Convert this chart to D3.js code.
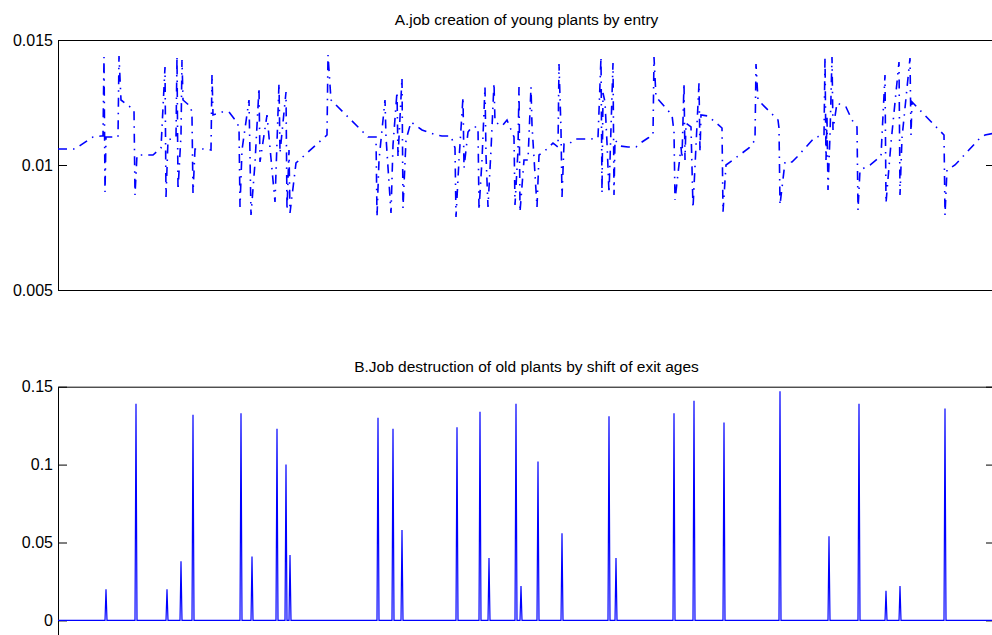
<!DOCTYPE html>
<html>
<head>
<meta charset="utf-8">
<script src="https://cdn.jsdelivr.net/npm/d3@7/dist/d3.min.js"></script>
<style>
  body { margin: 0; background: #fff; }
  svg { display: block; font-family: "Liberation Sans", Arial, sans-serif; }
</style>
</head>
<body>
<div id="chart"></div>
<script>
// number of periods on the (unlabelled) time axis
var nPeriods = 937

// A. job creation of young plants by entry -- period / rate pairs
var periodsA = [0, 17, 35, 43, 45, 46, 47, 48, 60, 61, 63, 76, 77, 79, 87, 95, 103, 107, 108, 110,
  118, 119, 120, 123, 124, 125, 133, 134, 135, 137, 145, 153, 154, 155, 164, 171, 178, 181, 182, 184,
  191, 192, 193, 197, 201, 202, 209, 217, 221, 222, 228, 229, 231, 232, 238, 269, 270, 273, 305, 310,
  318, 319, 321, 327, 328, 333, 335, 339, 340, 344, 345, 348, 353, 364, 378, 384, 393, 397, 398, 401,
  405, 406, 410, 414, 420, 421, 424, 427, 428, 430, 433, 436, 437, 444, 449, 456, 457, 460, 461, 462,
  466, 470, 473, 474, 479, 481, 489, 495, 500, 501, 503, 504, 506, 511, 517, 533, 540, 543, 544, 545,
  547, 549, 551, 555, 556, 557, 562, 570, 578, 584, 590, 595, 596, 598, 614, 616, 617, 623, 624, 626,
  627, 628, 633, 635, 641, 642, 643, 650, 657, 664, 665, 668, 691, 697, 698, 700, 720, 721, 722, 727,
  734, 739, 757, 766, 767, 768, 769, 770, 772, 774, 775, 779, 788, 794, 799, 800, 802, 812, 823, 827,
  828, 833, 841, 842, 844, 852, 853, 854, 886, 887, 889, 897, 922, 927, 937]
var creationA = [0.01064, 0.01064, 0.01112, 0.01116, 0.01116, 0.01432, 0.00892, 0.01112, 0.01112, 0.01436,
  0.0126, 0.0122, 0.0088, 0.0104, 0.0104, 0.0104, 0.01068, 0.01392, 0.00872, 0.011,
  0.01112, 0.01436, 0.009, 0.0112, 0.0142, 0.0126, 0.01232, 0.01192, 0.00888, 0.01064,
  0.01064, 0.0106, 0.01364, 0.012, 0.01212, 0.01212, 0.01176, 0.01152, 0.00832, 0.0106,
  0.0126, 0.0104, 0.008, 0.01008, 0.01308, 0.01012, 0.012, 0.00852, 0.01328, 0.01048,
  0.01292, 0.0082, 0.0106, 0.00808, 0.01008, 0.0112, 0.0144, 0.0126, 0.01132, 0.01112,
  0.01112, 0.00792, 0.0102, 0.0126, 0.01112, 0.00808, 0.0108, 0.01292, 0.01032, 0.01348,
  0.00828, 0.011, 0.01172, 0.0114, 0.0112, 0.01116, 0.01116, 0.01068, 0.00792, 0.0102,
  0.01272, 0.00988, 0.01132, 0.01152, 0.01152, 0.0082, 0.0102, 0.01312, 0.0104, 0.00832,
  0.0106, 0.01328, 0.01172, 0.01156, 0.0118, 0.01112, 0.0084, 0.0106, 0.01312, 0.00812,
  0.0102, 0.0102, 0.01312, 0.0116, 0.00832, 0.0104, 0.01064, 0.01088, 0.01072, 0.01404,
  0.0114, 0.00872, 0.01084, 0.01084, 0.01104, 0.01104, 0.01108, 0.01432, 0.00888, 0.01288,
  0.01252, 0.01088, 0.00888, 0.01408, 0.0088, 0.011, 0.01076, 0.01072, 0.01072, 0.01092,
  0.01108, 0.0112, 0.01432, 0.01272, 0.012, 0.01132, 0.0086, 0.01072, 0.01028, 0.01328,
  0.0102, 0.01168, 0.01152, 0.00828, 0.01328, 0.01052, 0.012, 0.01196, 0.01172, 0.01148,
  0.00812, 0.01, 0.01068, 0.011, 0.01404, 0.0126, 0.0118, 0.01148, 0.0084, 0.01012,
  0.01012, 0.01032, 0.01112, 0.01116, 0.01432, 0.0102, 0.01192, 0.009, 0.0112, 0.01432,
  0.0114, 0.01248, 0.01232, 0.0118, 0.01152, 0.0082, 0.0098, 0.01, 0.01036, 0.0136,
  0.00848, 0.01088, 0.01412, 0.0088, 0.01108, 0.01428, 0.0112, 0.01252, 0.0112, 0.008,
  0.0098, 0.01, 0.01108, 0.0112, 0.01128]

// B. job destruction of old plants by shift of exit ages -- zero except these periods
var spikePeriods = [48, 78, 109, 123, 135, 183, 194, 219, 228, 232, 320, 335, 344, 399, 422, 431,
  458, 463, 480, 504, 551, 558, 616, 636, 666, 722, 771, 801, 828, 842, 887]
var spikeHeights = [0.020, 0.139, 0.020, 0.038, 0.132, 0.133, 0.041, 0.123, 0.100, 0.042, 0.130, 0.123,
  0.058, 0.124, 0.134, 0.040, 0.139, 0.022, 0.102, 0.056, 0.131, 0.040, 0.133, 0.141, 0.127, 0.147,
  0.054, 0.139, 0.019, 0.022, 0.136]

var ticksA = [0.005, 0.01, 0.015]
var ticksB = [0, 0.05, 0.1, 0.15]
var titleA = "A.job creation of young plants by entry"
var titleB = "B.Job destruction of old plants by shift of exit ages"

var width = 992, height = 635
var left = 58, right = 995
var tickLen = 9

var svg = d3.select("#chart").append("svg")
    .attr("width", width)
    .attr("height", height)

var x = d3.scaleLinear().domain([0, nPeriods]).range([left, right])
var fmt = d3.format("~g")

function drawFrame(y, ticks, top, bottom) {
  var g = svg.append("g")

  var yl = g.append("g")
      .attr("transform", "translate(" + left + ",0)")
      .call(d3.axisLeft(y).tickValues(ticks).tickSize(-tickLen).tickSizeOuter(0)
        .tickPadding(5).tickFormat(fmt))
  var yr = g.append("g")
      .attr("transform", "translate(" + right + ",0)")
      .call(d3.axisRight(y).tickValues(ticks).tickSize(-tickLen).tickSizeOuter(0)
        .tickFormat(""))
  var xt = g.append("g")
      .attr("transform", "translate(0," + top + ")")
      .call(d3.axisTop(x).tickValues([]).tickSizeOuter(0))
  var xb = g.append("g")
      .attr("transform", "translate(0," + bottom + ")")
      .call(d3.axisBottom(x).tickValues([]).tickSizeOuter(0))

  g.selectAll("path.domain, .tick line").attr("stroke", "#000").attr("stroke-width", 1)
  yl.selectAll("text")
      .attr("fill", "#000")
      .style("font-size", "16px")
      .style("font-family", "'Liberation Sans', Arial, sans-serif")
}

// ---------- panel A ----------
var topA = 40, botA = 290
var yA = d3.scaleLinear().domain([0.005, 0.015]).range([botA, topA])

drawFrame(yA, ticksA, topA, botA)

var ptsA = periodsA.map(function(p, i){ return [p, creationA[i]] })

svg.append("path")
    .datum(ptsA)
    .attr("fill", "none")
    .attr("stroke", "#0000ff")
    .attr("stroke-width", 1.6)
    .attr("stroke-dasharray", "9,6,1.5,6")
    .attr("d", d3.line()
      .x(function(d){ return x(d[0]) })
      .y(function(d){ return yA(d[1]) }))

svg.append("text")
    .attr("x", (left + right) / 2)
    .attr("y", 25)
    .attr("text-anchor", "middle")
    .style("font-size", "15.5px")
    .text(titleA)

// ---------- panel B ----------
var topB = 386.7, botB = 636
var yB = d3.scaleLinear().domain([-0.01, 0.15]).range([botB, topB])

drawFrame(yB, ticksB, topB, botB)

// zero line with a one-period spike at each listed period
var ptsB = [[0, 0]]
spikePeriods.forEach(function(p, i){
  ptsB.push([p - 1, 0], [p, spikeHeights[i]], [p + 1, 0])
})
ptsB.push([nPeriods, 0])

svg.append("path")
    .datum(ptsB)
    .attr("fill", "none")
    .attr("stroke", "#0000ff")
    .attr("stroke-width", 1.2)
    .attr("d", d3.line()
      .x(function(d){ return x(d[0]) })
      .y(function(d){ return yB(d[1]) }))

svg.append("text")
    .attr("x", (left + right) / 2)
    .attr("y", 371.5)
    .attr("text-anchor", "middle")
    .style("font-size", "15.5px")
    .text(titleB)
</script>
</body>
</html>
